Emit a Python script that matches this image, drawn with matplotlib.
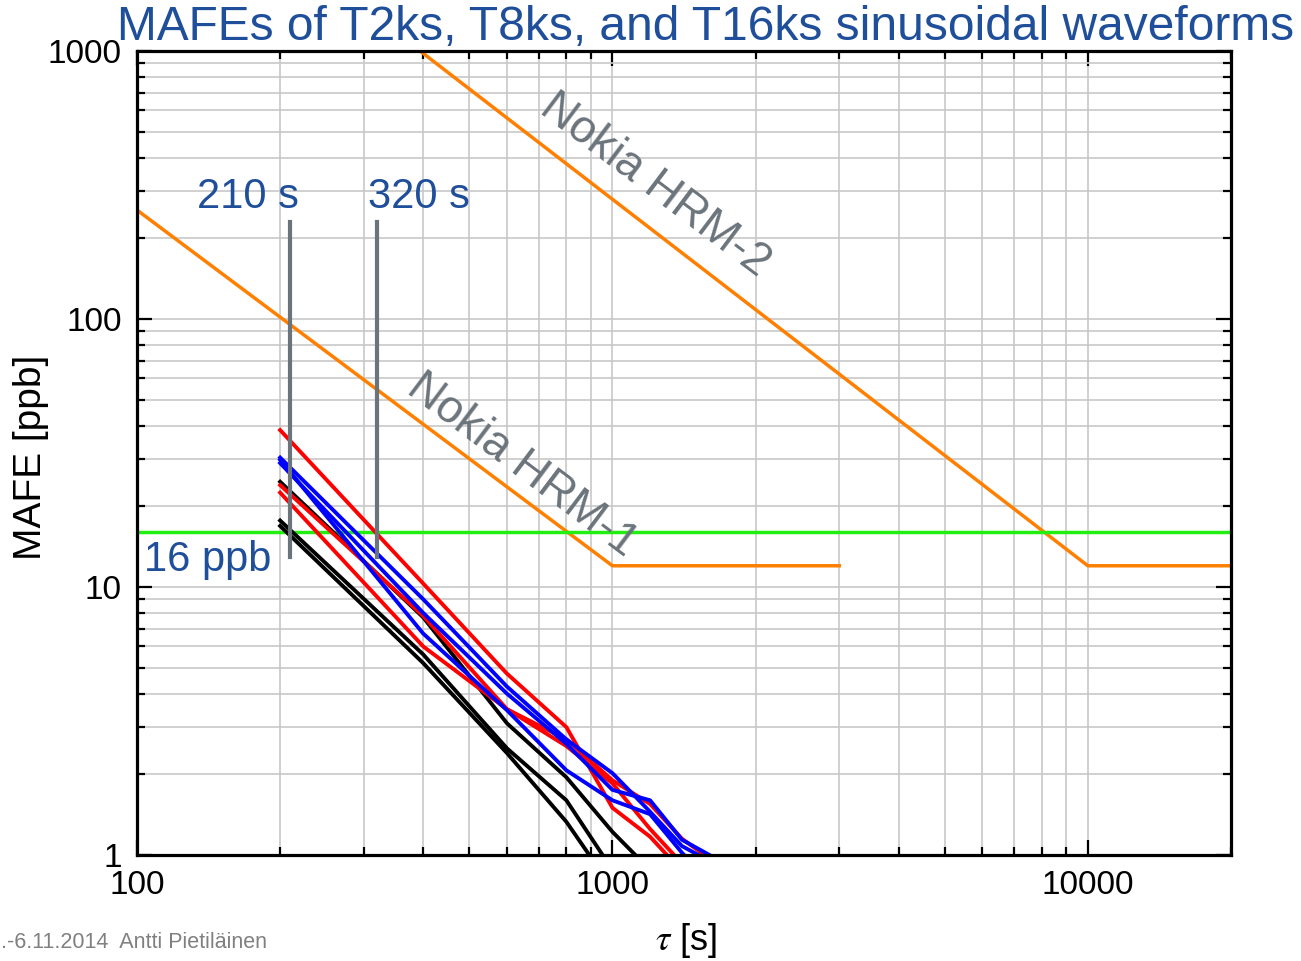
import numpy as np
import matplotlib.pyplot as plt
from matplotlib.ticker import LogLocator, NullFormatter, FixedLocator, FixedFormatter

plt.rcParams['font.family'] = ['Liberation Sans', 'DejaVu Sans']
plt.rcParams['mathtext.fontset'] = 'stix'

# averaging times [s]
tau = [200, 400, 600, 800, 1000, 1200, 1400, 1600]

# MAFE [ppb] for the measured waveforms
red_1 = [38.5, 10.3, 4.75, 3.0, 1.5, 1.17, 0.87, 0.75]
red_2 = [24.0, 7.8, 3.5, 2.55, 1.85, 1.25, 0.93, 0.8]
red_3 = [22.5, 6.0, 3.5, 2.7, 1.9, 1.55, 1.15, 0.97]
blue_1 = [30.4, 9.0, 4.25, 2.7, 2.02, 1.45, 1.08, 0.95]
blue_2 = [29.8, 6.7, 3.47, 2.07, 1.6, 1.42, 1.02, 0.8]
blue_3 = [29.0, 8.0, 4.0, 2.6, 1.75, 1.6, 1.14, 1.0]
black_1 = [24.7, 7.7, 3.1, 1.95, 1.22, 0.88, 0.7, 0.6]
black_2 = [17.7, 5.6, 2.5, 1.6, 0.88, 0.7, 0.6, 0.5]
black_3 = [16.9, 5.2, 2.4, 1.33, 0.75, 0.6, 0.5, 0.45]

# Nokia masks
hrm1_tau = [100, 1000, 3000]
hrm1_val = [255, 12, 12]
hrm2_tau = [394, 10000, 20000]
hrm2_val = [1000, 12, 12]

limit_ppb = 16
marker_tau = [210, 320]
marker_lo, marker_hi = 12.9, 230

title_col = '#1f4e9a'
gray_col = '#6b737b'

fig = plt.figure(figsize=(13.01, 9.61), dpi=100)
ax = fig.add_axes([137/1301, 106/961, 1094/1301, 804/961])

ax.set_xscale('log')
ax.set_yscale('log')
ax.set_xlim(100, 20000)
ax.set_ylim(1, 1000)

ax.grid(True, which='both', color='#c8c8c8', lw=1.2)
ax.set_axisbelow(True)

ax.plot(hrm1_tau, hrm1_val, color='#ff8000', lw=2.5)
ax.plot(hrm2_tau, hrm2_val, color='#ff8000', lw=2.5)
ax.axhline(limit_ppb, color='#22ee11', lw=2.5)

for ys in [black_1, black_2, black_3]:
    ax.plot(tau, ys, color='black', lw=2.8)
for ys in [red_1, red_2, red_3]:
    ax.plot(tau, ys, color='red', lw=2.8)
for ys in [blue_1, blue_2, blue_3]:
    ax.plot(tau, ys, color='blue', lw=2.8)

for t in marker_tau:
    ax.plot([t, t], [marker_lo, marker_hi], color=gray_col, lw=3)

ax.text(171, 285, '210 s', color=title_col, fontsize=30, ha='center', va='center')
ax.text(391, 285, '320 s', color=title_col, fontsize=30, ha='center', va='center')
ax.text(141, 12.6, '16 ppb', color=title_col, fontsize=30, ha='center', va='center')
ax.text(1231, 316, 'Nokia HRM-2', color=gray_col, fontsize=33, ha='center', va='center',
        rotation=-37, rotation_mode='anchor')
ax.text(646, 28.5, 'Nokia HRM-1', color=gray_col, fontsize=33, ha='center', va='center',
        rotation=-37, rotation_mode='anchor')

ax.xaxis.set_major_locator(FixedLocator([100, 1000, 10000]))
ax.xaxis.set_major_formatter(FixedFormatter(['100', '1000', '10000']))
ax.xaxis.set_minor_locator(LogLocator(base=10, subs=np.arange(2, 10)))
ax.xaxis.set_minor_formatter(NullFormatter())
ax.yaxis.set_major_locator(FixedLocator([1, 10, 100, 1000]))
ax.yaxis.set_major_formatter(FixedFormatter(['1', '10', '100', '1000']))
ax.yaxis.set_minor_locator(LogLocator(base=10, subs=np.arange(2, 10)))
ax.yaxis.set_minor_formatter(NullFormatter())

ax.tick_params(which='both', direction='in', top=True, right=True, width=1.6, labelsize=24)
ax.tick_params(which='major', length=11)
ax.tick_params(which='minor', length=5.5)
ax.tick_params(axis='y', pad=11)
ax.tick_params(axis='x', pad=11)
for s in ax.spines.values():
    s.set_linewidth(2.3)

fig.text(706/1301, 1 - 28/961, 'MAFEs of T2ks, T8ks, and T16ks sinusoidal waveforms',
         color=title_col, fontsize=34.5, ha='center', va='center')
fig.text(31/1301, 1 - 457/961, 'MAFE [ppb]', fontsize=28, rotation=90, ha='center', va='center')
fig.text(686/1301, 1 - 940/961, r'$\tau$ [s]', fontsize=26, ha='center', va='center')
fig.text(1/1301, 1 - 942/961, '.-6.11.2014  Antti Pietiläinen', color='#808080',
         fontsize=15.5, ha='left', va='center')

fig.savefig('out.png', dpi=100)
